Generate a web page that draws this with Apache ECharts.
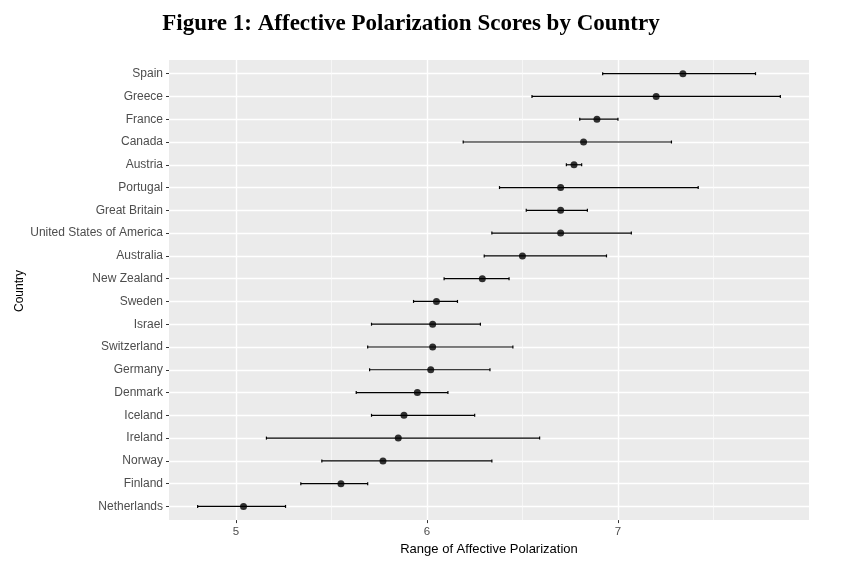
<!DOCTYPE html>
<html>
<head>
<meta charset="utf-8">
<script src="https://cdn.jsdelivr.net/npm/echarts@6/dist/echarts.min.js"></script>
<style>
html, body { margin: 0; background: #fff; }
#main { width: 855px; height: 561px; }
</style>
</head>
<body>
<div id="main"></div>
<script>
// top to bottom, as in the figure
var countries = ['Spain', 'Greece', 'France', 'Canada', 'Austria', 'Portugal', 'Great Britain',
  'United States of America', 'Australia', 'New Zealand', 'Sweden', 'Israel', 'Switzerland',
  'Germany', 'Denmark', 'Iceland', 'Ireland', 'Norway', 'Finland', 'Netherlands'];
var scores = [7.34, 7.20, 6.89, 6.82, 6.77, 6.70, 6.70, 6.70, 6.50, 6.29,
  6.05, 6.03, 6.03, 6.02, 5.95, 5.88, 5.85, 5.77, 5.55, 5.04];
var lower = [6.92, 6.55, 6.80, 6.19, 6.73, 6.38, 6.52, 6.34, 6.30, 6.09,
  5.93, 5.71, 5.69, 5.70, 5.63, 5.71, 5.16, 5.45, 5.34, 4.80];
var upper = [7.72, 7.85, 7.00, 7.28, 6.81, 7.42, 6.84, 7.07, 6.94, 6.43,
  6.16, 6.28, 6.45, 6.33, 6.11, 6.25, 6.59, 6.34, 5.69, 5.26];
var xTicks = [5, 6, 7];
var xMinor = [5.5, 6.5, 7.5];
var rowIdx = countries.map(function (c, i) { return i; });

var chart = echarts.init(document.getElementById('main'));

var barData = countries.map(function (c, i) { return [i, lower[i], upper[i]]; });
var pointData = countries.map(function (c, i) { return [scores[i], i]; });

function renderBar(params, api) {
  var i = api.value(0);
  var a = api.coord([api.value(1), i]);
  var b = api.coord([api.value(2), i]);
  var st = { stroke: '#000', lineWidth: 1.2 };
  return {
    type: 'group',
    children: [
      { type: 'line', shape: { x1: a[0], y1: a[1], x2: b[0], y2: b[1] }, style: st },
      { type: 'line', shape: { x1: a[0], y1: a[1] - 1.5, x2: a[0], y2: a[1] + 1.5 }, style: st },
      { type: 'line', shape: { x1: b[0], y1: b[1] - 1.5, x2: b[0], y2: b[1] + 1.5 }, style: st }
    ]
  };
}

chart.setOption({
  animation: false,
  title: {
    text: 'Figure 1: Affective Polarization Scores by Country',
    left: 406, top: 8, textAlign: 'center',
    textStyle: { fontFamily: 'Liberation Serif', fontWeight: 'bold', fontSize: 23, color: '#000' }
  },
  // y axis title, placed by hand so it sits where ggplot put it
  graphic: [{
    type: 'text', x: 20, y: 291, rotation: Math.PI / 2,
    style: {
      text: 'Country', fontFamily: 'Liberation Sans', fontSize: 12, fill: '#000',
      align: 'center', verticalAlign: 'middle'
    }
  }],
  grid: {
    left: 169, right: 46, top: 60, bottom: 40,
    show: true, backgroundColor: '#ebebeb', borderWidth: 0
  },
  xAxis: [{
    type: 'value', min: 4.65, max: 8.0,
    name: 'Range of Affective Polarization', nameLocation: 'middle', nameGap: 22,
    nameTextStyle: { fontFamily: 'Liberation Sans', fontSize: 13, color: '#000' },
    axisLine: { show: false, onZero: false },
    axisTick: { show: true, customValues: xTicks, length: 3, lineStyle: { color: '#333' } },
    axisLabel: { customValues: xTicks, color: '#4d4d4d', fontSize: 11.5, fontFamily: 'Liberation Sans', margin: 6 },
    splitLine: { show: true, lineStyle: { color: '#fff', width: 1.4 } }
  }, {
    type: 'value', min: 4.65, max: 8.0, position: 'bottom',
    axisLine: { show: false, onZero: false },
    axisTick: { show: false, customValues: xMinor },
    axisLabel: { show: false, customValues: xMinor },
    splitLine: { show: true, lineStyle: { color: '#fafafa', width: 0.7 } }
  }],
  yAxis: {
    type: 'value', min: -0.6, max: 19.6, inverse: true,
    axisLine: { show: false, onZero: false },
    axisTick: { show: true, customValues: rowIdx, length: 3, lineStyle: { color: '#333' } },
    axisLabel: {
      customValues: rowIdx, color: '#4d4d4d', fontSize: 12, fontFamily: 'Liberation Sans', margin: 6,
      formatter: function (v) { return countries[Math.round(v)] || ''; }
    },
    splitLine: { show: true, lineStyle: { color: '#fff', width: 1.4 } }
  },
  series: [{
    type: 'custom',
    renderItem: renderBar,
    encode: { x: [1, 2], y: 0 },
    data: barData,
    z: 3
  }, {
    type: 'scatter',
    data: pointData,
    symbolSize: 7,
    itemStyle: { color: '#000' },
    z: 4
  }]
});
</script>
</body>
</html>
